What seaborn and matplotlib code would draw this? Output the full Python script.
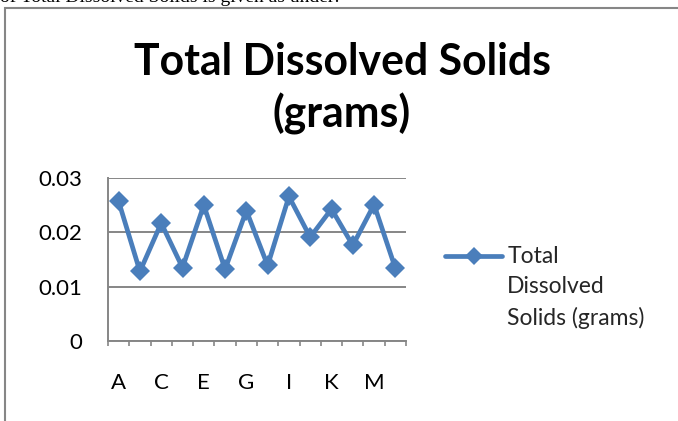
import matplotlib
matplotlib.use("Agg")
import matplotlib.pyplot as plt
import seaborn as sns
import pandas as pd
from matplotlib.patches import Rectangle

# Samples A..N and their total dissolved solids
categories = ["A", "B", "C", "D", "E", "F", "G", "H", "I", "J", "K", "L", "M", "N"]
tds_grams = [0.0257, 0.0128, 0.0217, 0.0135, 0.0250, 0.0132, 0.0240,
             0.0139, 0.0266, 0.0191, 0.0243, 0.0176, 0.0251, 0.0134]
y_ticks = [0, 0.01, 0.02, 0.03]
y_tick_labels = ["0", "0.01", "0.02", "0.03"]
x_label_positions = [0, 2, 4, 6, 8, 10, 12]
x_tick_labels = ["A", "C", "E", "G", "I", "K", "M"]
series_label = "Total\nDissolved\nSolids (grams)"
chart_title = "Total Dissolved Solids\n(grams)"
caption = "of Total Dissolved Solids is given as under:"

LINE_BLUE = "#4A7EBB"
GRAY = "#868686"

sns.set_theme(style="white")
plt.rcParams["font.family"] = ["Lato", "DejaVu Sans"]

W, H = 678, 421
fig = plt.figure(figsize=(W / 100, H / 100), dpi=100)
ax = fig.add_axes([108 / W, 1 - 341 / H, 298 / W, 163 / H])

df = pd.DataFrame({"sample": categories, "tds": tds_grams})
sns.lineplot(data=df, x="sample", y="tds", ax=ax, sort=False,
             color=LINE_BLUE, linewidth=3.4, marker="D", markersize=10.5,
             markeredgewidth=0, label=series_label)

# axes limits and y axis
ax.set_xlim(-0.5, len(categories) - 0.5)
ax.set_ylim(0, 0.03)
ax.set_yticks(y_ticks)
ax.set_yticklabels(y_tick_labels)
ax.tick_params(axis="y", which="major", direction="out", length=5.8,
               width=1.2, color=GRAY, pad=13, labelsize=16, labelcolor="black")
ax.yaxis.grid(True, color=GRAY, linewidth=1.4)
ax.xaxis.grid(False)
ax.set_axisbelow(True)

# x axis: tick marks on category boundaries, labels on every other category
boundaries = [i - 0.5 for i in range(len(categories) + 1)]
ax.set_xticks(boundaries)
ax.set_xticklabels([""] * len(boundaries))
ax.set_xticks(x_label_positions, minor=True)
ax.set_xticklabels(x_tick_labels, minor=True)
ax.tick_params(axis="x", which="major", direction="out", length=3.6,
               width=1.2, color=GRAY, bottom=True)
ax.tick_params(axis="x", which="minor", length=0, pad=23, labelsize=16,
               labelcolor="black", bottom=True)
ax.set_xlabel("")
ax.set_ylabel("")

for side in ["top", "right"]:
    ax.spines[side].set_visible(False)
for side in ["left", "bottom"]:
    ax.spines[side].set_color(GRAY)
    ax.spines[side].set_linewidth(1.4)

# legend to the right of the plot area, marker level with the first line
leg = ax.legend(loc="upper left", bbox_to_anchor=(445 / W, 1 - 246 / H),
                bbox_transform=fig.transFigure, frameon=False, fontsize=16.5,
                borderpad=0, borderaxespad=0, handlelength=2.5,
                handletextpad=0.22, handleheight=1.2, markerscale=0.85)
leg.get_texts()[0].set_linespacing(1.55)
row = leg._legend_handle_box.get_children()[0].get_children()[0]
row.align = "top"

# chart title
fig.text(342 / W, 1 - 42 / H, chart_title, ha="center", va="top",
         fontsize=30.8, fontweight="bold", linespacing=1.3, color="black")

# chart frame
fig.patches.append(Rectangle((5 / W, -0.1), 1.2, 1 - 8 / H + 0.1,
                             transform=fig.transFigure, fill=False,
                             edgecolor=GRAY, linewidth=1.5, zorder=0))

# running text of the page just above the chart
fig.text(0, 1 - 2 / H, caption, ha="left", va="baseline",
         family=["Liberation Serif"], fontsize=14, color="black")

fig.savefig("out.png", dpi=100)
